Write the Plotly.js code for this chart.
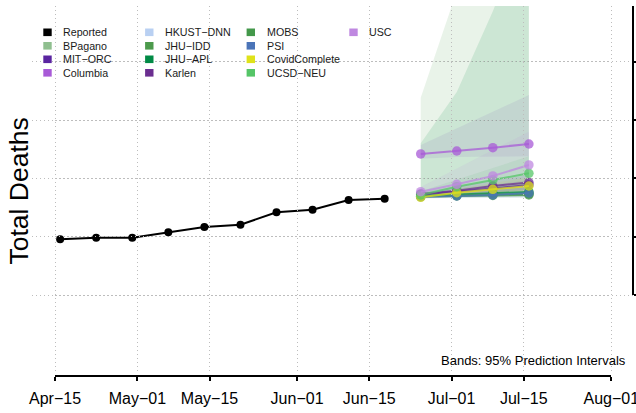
<!DOCTYPE html>
<html>
<head>
<meta charset="utf-8">
<script src="https://cdn.plot.ly/plotly-3.0.1.min.js"></script>
<style>html,body{margin:0;padding:0;background:#fff;}#chart{width:636px;height:413px;}</style>
</head>
<body>
<div id="chart"></div>
<script>
// ---------------- DATA ----------------
const reportedDates = ["2020-04-16","2020-04-23","2020-04-30","2020-05-07","2020-05-14","2020-05-21","2020-05-28","2020-06-04","2020-06-11","2020-06-18"];
const reportedDeaths = [956, 984, 984, 1076, 1167, 1207, 1420, 1464, 1631, 1653];

const forecastDates = ["2020-06-25","2020-07-02","2020-07-09","2020-07-16"];

const models = ["BPagano","MIT\u2212ORC","Columbia","HKUST\u2212DNN","JHU\u2212IDD","JHU\u2212APL","Karlen","MOBS","PSI","CovidComplete","UCSD\u2212NEU","USC"];
const modelColors = ["#8fbf8f","#5a24a0","#a85ad7","#b9d0f2","#4c9a4c","#008a45","#6b2e90","#43984a","#4b74b8","#dfe21a","#55c567","#bf88e0"];

const medianDeaths = {
  "BPagano":       [1700, 1715, 1730, 1745],
  "MIT\u2212ORC":  [1725, 1775, 1830, 1890],
  "Columbia":      [2421, 2472, 2529, 2592],
  "HKUST\u2212DNN":[1690, 1705, 1718, 1730],
  "JHU\u2212IDD":  [1691, 1700, 1708, 1717],
  "JHU\u2212APL":  [1698, 1720, 1745, 1770],
  "Karlen":        [1734, 1790, 1871, 1931],
  "MOBS":          [1695, 1708, 1722, 1735],
  "PSI":           [1682, 1700, 1717, 1751],
  "CovidComplete": [1677, 1756, 1815, 1871],
  "UCSD\u2212NEU": [1717, 1859, 1974, 2089],
  "USC":           [1773, 1900, 2043, 2232]
};
const lower95 = {
  "BPagano":       [1680, 1690, 1700, 1710],
  "MIT\u2212ORC":  [1700, 1730, 1770, 1810],
  "Columbia":      [2340, 2370, 2375, 2380],
  "HKUST\u2212DNN":[1670, 1680, 1690, 1700],
  "JHU\u2212IDD":  [1670, 1672, 1675, 1678],
  "JHU\u2212APL":  [1675, 1680, 1685, 1690],
  "Karlen":        [1700, 1730, 1770, 1800],
  "MOBS":          [1680, 1690, 1700, 1710],
  "PSI":           [1660, 1660, 1665, 1670],
  "CovidComplete": [1650, 1690, 1720, 1750],
  "UCSD\u2212NEU": [1690, 1760, 1820, 1880],
  "USC":           [1700, 1740, 1790, 1840]
};
const upper95 = {
  "BPagano":       [1740, 1800, 1860, 1920],
  "MIT\u2212ORC":  [1750, 1820, 1890, 1970],
  "Columbia":      [2575, 2860, 3146, 3433],
  "HKUST\u2212DNN":[1720, 1750, 1780, 1800],
  "JHU\u2212IDD":  [3387, 5215, 7800, 10500],
  "JHU\u2212APL":  [2604, 3485, 4872, 6420],
  "Karlen":        [1770, 1860, 1960, 2060],
  "MOBS":          [1720, 1750, 1780, 1810],
  "PSI":           [1720, 1760, 1810, 1860],
  "CovidComplete": [1720, 1820, 1920, 2020],
  "UCSD\u2212NEU": [1780, 1980, 2180, 2380],
  "USC":           [1854, 2170, 2490, 2803]
};

const tickDates = ["2020-04-15","2020-05-01","2020-05-15","2020-06-01","2020-06-15","2020-07-01","2020-07-15","2020-08-01"];
const tickLabels = ["Apr\u221215","May\u221201","May\u221215","Jun\u221201","Jun\u221215","Jul\u221201","Jul\u221215","Aug\u221201"];
const yTicks = [0, 1000, 2000, 3000, 4000];

const legendNames = ["Reported"].concat(models);
const legendColors = ["#000000"].concat(modelColors);

// ---------------- GEOMETRY HELPERS ----------------
const W = 636, H = 413;
const mL = 32, mR = 3, mT = 6, mB = 37;
const plotW = W - mL - mR, plotH = H - mT - mB;
const px2x = p => (p - mL) / plotW;
const py2y = p => (H - mB - p) / plotH;
const DAY = 86400000;
const t15 = Date.parse("2020-04-15T00:00:00Z");
const tAug = Date.parse("2020-08-01T00:00:00Z");
const xRange = [t15 - 4.465 * DAY, tAug + 4.21 * DAY];
const yRange = [-1304.7, 4961];
const yDomBottom = py2y(371);
const y2DomBottom = py2y(295);

function rgba(hex, a) {
  const n = parseInt(hex.slice(1), 16);
  return "rgba(" + ((n >> 16) & 255) + "," + ((n >> 8) & 255) + "," + (n & 255) + "," + a + ")";
}

// ---------------- TRACES ----------------
const traces = [];
models.forEach((m, i) => {
  traces.push({
    x: forecastDates.concat(forecastDates.slice().reverse()),
    y: upper95[m].concat(lower95[m].slice().reverse()),
    type: "scatter", mode: "lines", fill: "toself",
    fillcolor: rgba(modelColors[i], 0.12),
    line: {width: 0}, hoverinfo: "skip", showlegend: false
  });
});
traces.push({
  x: reportedDates, y: reportedDeaths, type: "scatter", mode: "lines+markers",
  name: "Reported", line: {color: "#000000", width: 2},
  marker: {color: "#000000", size: 8}, showlegend: false
});
models.forEach((m, i) => {
  traces.push({
    x: forecastDates, y: medianDeaths[m], type: "scatter", mode: "lines+markers",
    name: m, line: {color: rgba(modelColors[i], 0.75), width: 2},
    marker: {color: rgba(modelColors[i], 0.75), size: 9.5}, showlegend: false
  });
});
// carriers for decorative axes
traces.push({x: [], y: [], xaxis: "x2", yaxis: "y", type: "scatter", showlegend: false, hoverinfo: "skip"});
traces.push({x: [], y: [], xaxis: "x", yaxis: "y2", type: "scatter", showlegend: false, hoverinfo: "skip"});

// ---------------- LEGEND (drawn) ----------------
const colSwatch = [47.5, 149.3, 250.8, 353.5];
const colText = [61, 163, 265, 367];
const rowY = [32.3, 45.8, 59.3, 72.8];
const shapes = [];
const annotations = [];
legendNames.forEach((nm, k) => {
  const c = Math.floor(k / 4), r = k % 4;
  shapes.push({
    type: "rect", xref: "paper", yref: "paper",
    x0: px2x(colSwatch[c] - 4.2), x1: px2x(colSwatch[c] + 4.2),
    y0: py2y(rowY[r] + 3.8), y1: py2y(rowY[r] - 3.8),
    fillcolor: legendColors[k], line: {width: 0}
  });
  annotations.push({
    xref: "paper", yref: "paper", x: px2x(colText[c]), y: py2y(rowY[r]),
    xanchor: "left", yanchor: "middle", text: nm, showarrow: false,
    font: {size: 10.7, color: "#1a1a1a"}
  });
});
annotations.push({
  xref: "paper", yref: "paper", x: px2x(628), y: py2y(360),
  xanchor: "right", yanchor: "middle", text: "Bands: 95% Prediction Intervals",
  showarrow: false, font: {size: 13, color: "#000000"}
});
annotations.push({
  xref: "paper", yref: "paper", x: px2x(18), y: py2y(191.5),
  xanchor: "center", yanchor: "middle", textangle: -90, text: "Total Deaths",
  showarrow: false, font: {size: 26.5, color: "#000000"}
});

const gridStyle = {showgrid: true, gridcolor: "#bdbdbd", gridwidth: 1, griddash: "1px,3px"};

const layout = {
  width: W, height: H,
  margin: {l: mL, r: mR, t: mT, b: mB, pad: 0},
  paper_bgcolor: "#ffffff", plot_bgcolor: "rgba(0,0,0,0)",
  font: {family: "'Liberation Sans', Arial, sans-serif", color: "#000000"},
  showlegend: false, hovermode: false,
  xaxis: Object.assign({
    type: "date", range: xRange, tickvals: tickDates, showticklabels: false,
    ticks: "", zeroline: false, showline: false, fixedrange: true
  }, gridStyle),
  yaxis: Object.assign({
    domain: [yDomBottom, 1], range: yRange, tickvals: yTicks, showticklabels: false,
    ticks: "", zeroline: false, showline: false, fixedrange: true
  }, gridStyle),
  xaxis2: {
    type: "date", domain: [px2x(55), px2x(611.3)], range: [t15, tAug],
    anchor: "free", position: 0, showgrid: false, zeroline: false,
    showline: true, linecolor: "#000000", linewidth: 2,
    ticks: "outside", ticklen: 4, tickwidth: 2, tickcolor: "#000000",
    tickvals: tickDates, ticktext: tickLabels, tickfont: {size: 16, color: "#000000"},
    ticklabeloverflow: "allow", ticklabelstandoff: 4,
    fixedrange: true
  },
  yaxis2: {
    domain: [y2DomBottom, 1], range: [0, yRange[1]], anchor: "free", position: 1, side: "right",
    showgrid: false, zeroline: false, showline: true, linecolor: "#000000", linewidth: 2,
    ticks: "outside", ticklen: 6, tickwidth: 2, tickcolor: "#000000",
    tickvals: yTicks, showticklabels: false, fixedrange: true
  },
  shapes: shapes,
  annotations: annotations
};

Plotly.newPlot("chart", traces, layout, {displayModeBar: false, staticPlot: true});
</script>
</body>
</html>
